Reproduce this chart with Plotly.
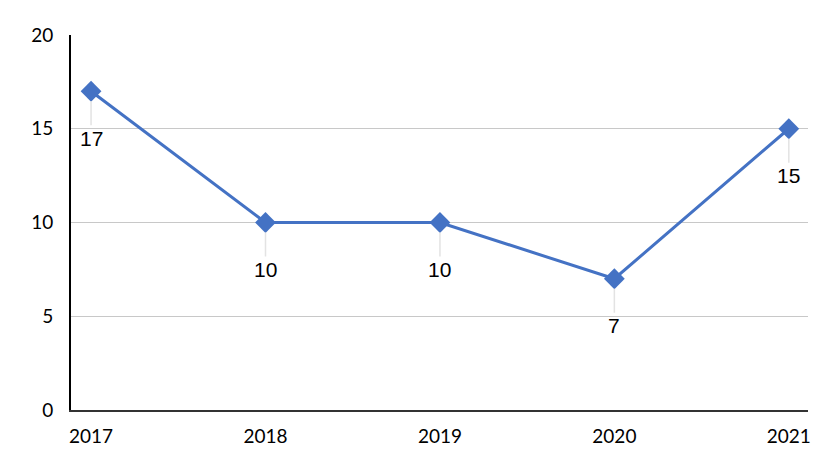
import plotly.graph_objects as go

years = ["2017", "2018", "2019", "2020", "2021"]
values = [17, 10, 10, 7, 15]
y_ticks = [0, 5, 10, 15, 20]

LINE_COLOR = "#4472C4"
TICK_FONT = "Lato, Open Sans, sans-serif"

fig = go.Figure()
fig.add_trace(go.Scatter(
    x=list(range(len(years))),
    y=values,
    mode="lines+markers",
    line=dict(color=LINE_COLOR, width=3),
    marker=dict(symbol="diamond", size=16, color=LINE_COLOR),
    hoverinfo="skip",
    showlegend=False,
))

annotations = []
for i, v in enumerate(values):
    annotations.append(dict(
        x=i, y=v, xref="x", yref="y",
        text=str(v),
        showarrow=True, arrowhead=0, arrowwidth=1.5, arrowcolor="#e3e3e3",
        ax=0, ay=47, standoff=10,
        font=dict(family="Liberation Sans, Arial, sans-serif", size=21, color="#000000"),
    ))

fig.update_layout(
    width=832, height=470,
    margin=dict(l=71, r=24, t=35, b=60),
    paper_bgcolor="white", plot_bgcolor="white",
    annotations=annotations,
    xaxis=dict(
        range=[-0.115, 4.11],
        tickmode="array", tickvals=list(range(len(years))), ticktext=years,
        showgrid=False, zeroline=False,
        showline=True, linecolor="#333333", linewidth=2,
        ticks="", ticklabelstandoff=8,
        tickfont=dict(family=TICK_FONT, size=19, color="#000000"),
    ),
    yaxis=dict(
        range=[0, 20],
        tickmode="array", tickvals=y_ticks, ticktext=[str(t) for t in y_ticks],
        showgrid=True, gridcolor="#c8c8c8", gridwidth=1,
        zeroline=False,
        showline=True, linecolor="#000000", linewidth=2,
        ticks="", ticklabelstandoff=12,
        tickfont=dict(family=TICK_FONT, size=19, color="#000000"),
    ),
)

fig.write_html("out.html", config={"displayModeBar": False},
               post_script="document.body.style.margin='0';")
